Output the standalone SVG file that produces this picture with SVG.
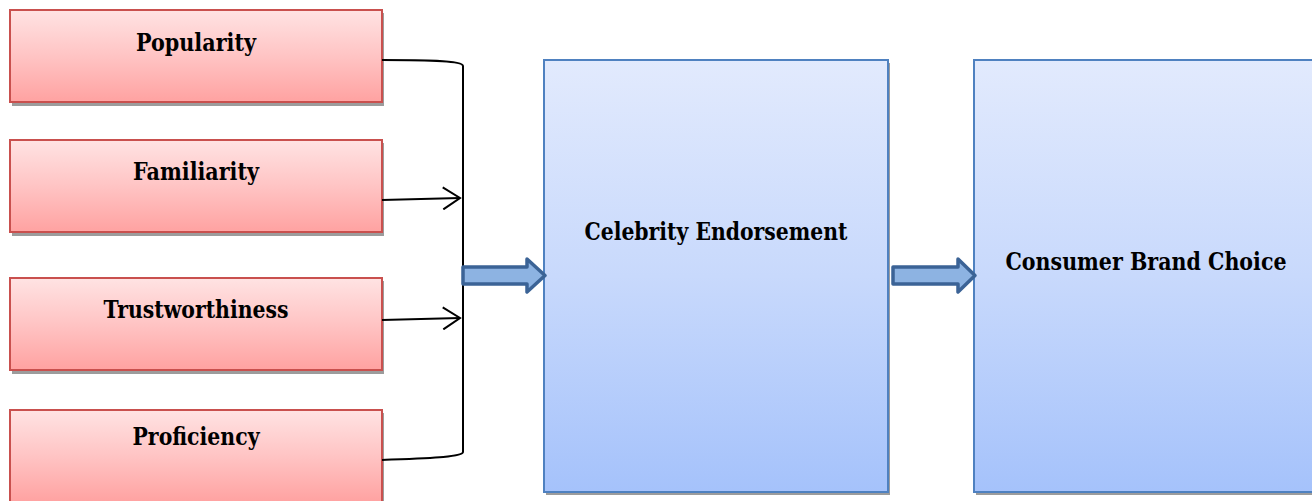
<svg xmlns="http://www.w3.org/2000/svg" width="1312" height="501" viewBox="0 0 1312 501">
<defs>
<linearGradient id="gRed" x1="0" y1="0" x2="0" y2="1">
<stop offset="0" stop-color="#FFE3E3"/>
<stop offset="0.5" stop-color="#FFC4C4"/>
<stop offset="1" stop-color="#FFA2A1"/>
</linearGradient>
<linearGradient id="gBlue" x1="0" y1="0" x2="0" y2="1">
<stop offset="0" stop-color="#E2EAFD"/>
<stop offset="0.5" stop-color="#C8D9FC"/>
<stop offset="1" stop-color="#A5C2FB"/>
</linearGradient>
<marker id="open" viewBox="0 0 20 24" refX="18" refY="12" markerWidth="20" markerHeight="24" markerUnits="userSpaceOnUse" orient="auto">
<path d="M1,1 L18,12 L1,23" fill="none" stroke="#000" stroke-width="2"/>
</marker>
</defs>
<style>
.shadow{fill:#9C9C9C;}
.red{fill:url(#gRed);stroke:#C9504E;stroke-width:2;}
.blue{fill:url(#gBlue);stroke:#4F81C0;stroke-width:2;}
.lbl{font-family:"DejaVu Serif","Liberation Serif",serif;font-weight:bold;font-size:24px;fill:#000;text-anchor:middle;}
.conn{fill:none;stroke:#000;stroke-width:2;}
.fat{fill:#8DB3E2;stroke:#3B6396;stroke-width:3.5;stroke-linejoin:round;}
</style>
<rect width="1312" height="501" fill="#fff"/>
<g id="node-popularity">
<rect class="shadow" x="12" y="13" width="372" height="93"/>
<rect class="red" x="10" y="10" width="372" height="92"/>
<text class="lbl" x="196" y="51" textLength="120" lengthAdjust="spacingAndGlyphs">Popularity</text>
</g>
<g id="node-familiarity">
<rect class="shadow" x="12" y="143" width="372" height="93"/>
<rect class="red" x="10" y="140" width="372" height="92"/>
<text class="lbl" x="196" y="180" textLength="126" lengthAdjust="spacingAndGlyphs">Familiarity</text>
</g>
<g id="node-trustworthiness">
<rect class="shadow" x="12" y="281" width="372" height="93"/>
<rect class="red" x="10" y="278" width="372" height="92"/>
<text class="lbl" x="196" y="318" textLength="185" lengthAdjust="spacingAndGlyphs">Trustworthiness</text>
</g>
<g id="node-proficiency">
<rect class="shadow" x="12" y="413" width="372" height="93"/>
<rect class="red" x="10" y="410" width="372" height="92"/>
<text class="lbl" x="196" y="445" textLength="127" lengthAdjust="spacingAndGlyphs">Proficiency</text>
</g>
<g id="node-celebrity">
<rect class="shadow" x="546" y="63" width="344" height="432"/>
<rect class="blue" x="544" y="60" width="344" height="432"/>
<text class="lbl" x="716" y="240" textLength="263" lengthAdjust="spacingAndGlyphs">Celebrity Endorsement</text>
</g>
<g id="node-consumer">
<rect class="shadow" x="976" y="63" width="344" height="432"/>
<rect class="blue" x="974" y="60" width="344" height="432"/>
<text class="lbl" x="1146" y="270" textLength="281" lengthAdjust="spacingAndGlyphs">Consumer Brand Choice</text>
</g>
<g id="connectors">
<path class="conn" d="M382,60 C420,60 463,60 463,66 L463,452 C463,457 430,458 382,460"/>
<path class="conn" d="M382,200 L460,198" marker-end="url(#open)"/>
<path class="conn" d="M382,320 L460,318" marker-end="url(#open)"/>
<path class="fat" d="M463,267 L527,267 L527,259 L545,275.5 L527,292 L527,284 L463,284 Z"/>
<path class="fat" d="M893,267 L958,267 L958,259 L975,275.5 L958,292 L958,284 L893,284 Z"/>
</g>
</svg>
